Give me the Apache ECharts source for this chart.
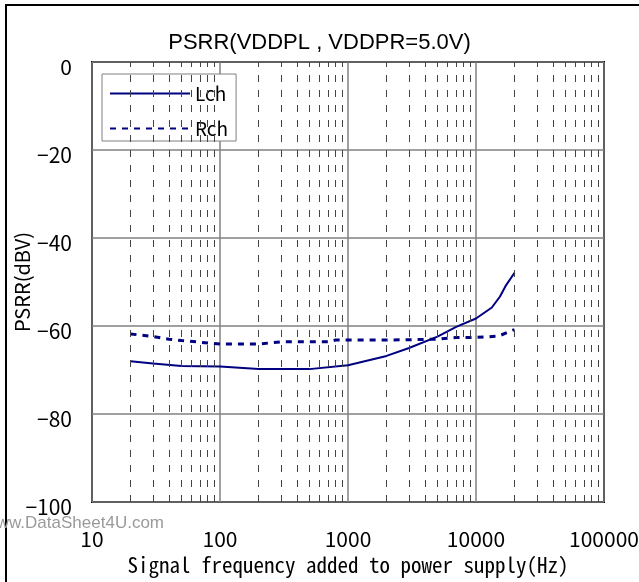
<!DOCTYPE html>
<html>
<head>
<meta charset="utf-8">
<script src="https://cdn.jsdelivr.net/npm/echarts@6/dist/echarts.min.js"></script>
<style>
html,body{margin:0;padding:0;background:#fff;}
#main{width:639px;height:582px;}
</style>
</head>
<body>
<div id="main"></div>
<script>
const freqL = [20, 30, 50, 100, 200, 500, 1000, 2000, 3000, 5000, 7000, 10000, 13300, 15400, 17200, 20000];
const lchValues = [-68.0, -68.5, -69.1, -69.2, -69.8, -69.8, -68.9, -66.8, -65.0, -62.4, -60.2, -58.3, -55.8, -53.3, -50.7, -47.9];
const freqR = [20, 30, 40, 50, 100, 200, 300, 500, 700, 800, 1000, 2000, 5000, 7000, 10000, 15000, 20000];
const rchValues = [-61.8, -62.4, -63.0, -63.3, -64.1, -64.1, -63.6, -63.6, -63.6, -63.2, -63.2, -63.2, -63.0, -62.6, -62.6, -62.3, -60.8];
const minorFreqs = [20, 30, 40, 50, 60, 70, 80, 90,
  200, 300, 400, 500, 600, 700, 800, 900,
  2000, 3000, 4000, 5000, 6000, 7000, 8000, 9000,
  20000, 30000, 40000, 50000, 60000, 70000, 80000, 90000];
const seriesNames = ['Lch', 'Rch'];
const titleText = 'PSRR(VDDPL , VDDPR=5.0V)';
const xName = 'Signal frequency added to power supply(Hz)';
const yName = 'PSRR(dBV)';

const FONT = "'Noto Sans CJK JP', 'Liberation Sans', sans-serif";
const SANS = "'Liberation Sans', Arial, sans-serif";
const MONO = "'Noto Sans Mono CJK JP', 'DejaVu Sans Mono', monospace";

const chart = echarts.init(document.getElementById('main'), null, {renderer: 'canvas'});
const option = {
  animation: false,
  backgroundColor: '#fff',
  title: {
    text: titleText,
    left: 'center',
    top: 27,
    textStyle: {fontFamily: SANS, fontSize: 22, fontWeight: 'normal', color: '#000'}
  },
  legend: {
    data: seriesNames,
    orient: 'vertical',
    left: 102,
    top: 74,
    itemWidth: 80,
    itemHeight: 14,
    itemGap: 16,
    padding: [10, 8, 3, 7],
    backgroundColor: '#fff',
    borderColor: '#808080',
    borderWidth: 1,
    borderRadius: 0,
    itemStyle: {opacity: 0},
    textStyle: {fontFamily: FONT, fontSize: 19, color: '#000'}
  },
  grid: {
    left: 92, top: 62, right: 35, bottom: 80,
    outerBoundsMode: 'none',
    containLabel: false,
    show: true, borderColor: '#000', borderWidth: 2, backgroundColor: 'transparent'
  },
  xAxis: {
    type: 'log',
    logBase: 10,
    min: 10,
    max: 100000,
    name: xName,
    nameLocation: 'middle',
    nameGap: 53,
    nameTextStyle: {fontFamily: MONO, fontSize: 21, color: '#000'},
    axisLine: {show: false},
    axisTick: {show: false},
    axisLabel: {margin: 27, fontFamily: FONT, fontSize: 21, color: '#000', formatter: v => String(Math.round(v))},
    splitLine: {show: true, lineStyle: {color: '#808080', width: 1.5}}
  },
  yAxis: {
    type: 'value',
    min: -100,
    max: 0,
    interval: 20,
    name: yName,
    nameLocation: 'middle',
    nameGap: 60,
    nameMoveOverlap: false,
    nameRotate: 90,
    nameTextStyle: {fontFamily: FONT, fontSize: 20, color: '#000'},
    axisLine: {show: false},
    axisTick: {show: false},
    axisLabel: {
      margin: 20, color: '#000',
      formatter: v => '{a|' + String(v).replace('-', '\u2212') + '}',
      rich: {a: {fontFamily: FONT, fontSize: 21, color: '#000', padding: [10, 0, 0, 0]}}
    },
    splitLine: {show: true, lineStyle: {color: '#808080', width: 1.5}}
  },
  series: [
    {
      name: 'minor',
      type: 'line',
      data: [],
      z: 1,
      silent: true,
      markLine: {
        silent: true,
        symbol: ['none', 'none'],
        label: {show: false},
        lineStyle: {color: '#444', width: 1, type: [7, 8]},
        emphasis: {disabled: true},
        data: minorFreqs.map(v => ({xAxis: v}))
      }
    },
    {
      name: seriesNames[0],
      type: 'line',
      z: 3,
      showSymbol: false,
      symbol: 'none',
      color: '#000080',
      lineStyle: {color: '#000080', width: 2},
      data: freqL.map((f, i) => [f, lchValues[i]])
    },
    {
      name: seriesNames[1],
      type: 'line',
      z: 3,
      showSymbol: false,
      symbol: 'none',
      color: '#000080',
      lineStyle: {color: '#000080', width: 3, type: [6, 6]},
      data: freqR.map((f, i) => [f, rchValues[i]])
    }
  ],
  graphic: [
    {
      type: 'rect',
      z: 100,
      silent: true,
      shape: {x: 6, y: 5, width: 700, height: 700},
      style: {fill: 'none', stroke: '#000', lineWidth: 2}
    },
    {
      type: 'text',
      z: 100,
      silent: true,
      style: {
        x: 164, y: 523,
        text: 'www.DataSheet4U.com',
        textAlign: 'right',
        textVerticalAlign: 'middle',
        fontFamily: SANS,
        fontSize: 17,
        fill: '#9a9a9a'
      }
    }
  ]
};
chart.setOption(option);
</script>
</body>
</html>
